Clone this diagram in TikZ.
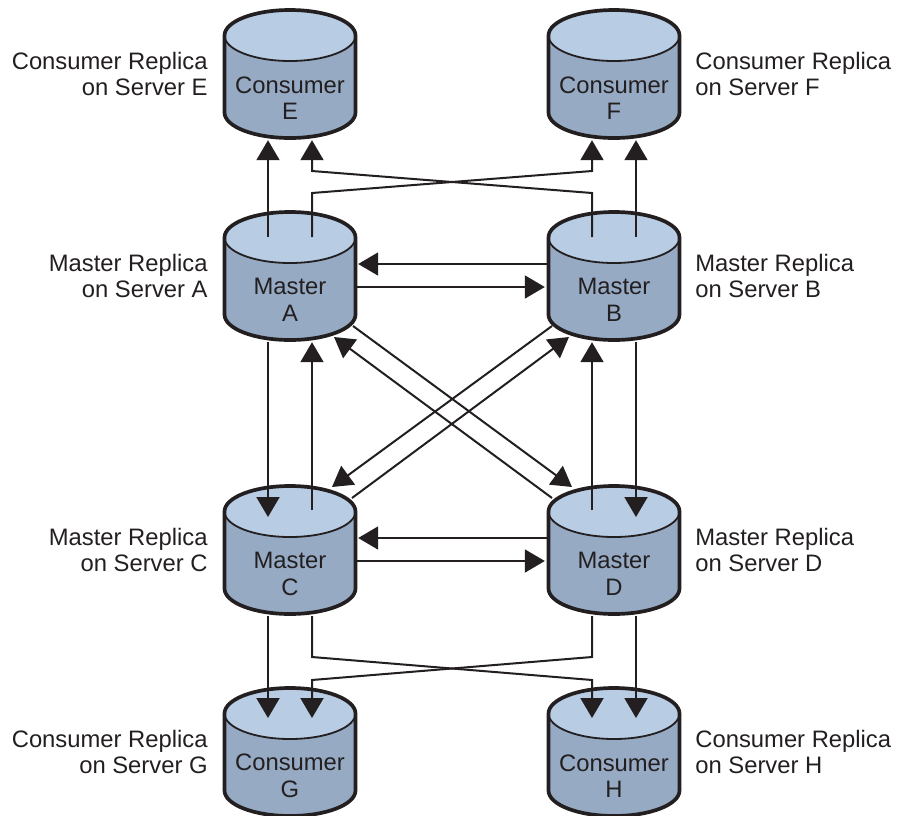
\documentclass[tikz,border=0pt]{standalone}
\usepackage{fontspec}
\setmainfont{Liberation Sans}
\usepackage{tikz}
\usetikzlibrary{positioning, arrows.meta}
\definecolor{dbtop}{RGB}{184,204,228}
\definecolor{dbbody}{RGB}{150,170,195}
\definecolor{ink}{RGB}{35,31,32}
\tikzset{
    dbbox/.style={minimum width=132pt, minimum height=132pt, inner sep=0pt},
    dbtext/.style={align=center, inner sep=0pt, text=ink, font=\fontsize{23.8}{26.6}\selectfont},
    lefttag/.style={align=right, inner sep=0pt, text=ink, font=\fontsize{23.8}{26.6}\selectfont},
    righttag/.style={align=left, inner sep=0pt, text=ink, font=\fontsize{23.8}{26.6}\selectfont},
    flow/.style={draw=ink, line width=2pt, -{Triangle[length=20pt,width=23pt]}}
}
% one cylinder: name, x, y
\newcommand{\dbdrum}[3]{
    \node[dbbox] (#1) at (#2,#3) {};
    \fill[dbbody] (#2-65.5,#3-38.5) -- ++(0,77) arc[start angle=180, end angle=0, x radius=65.5, y radius=25.5] -- ++(0,-77) -- cycle;
    \fill[dbtop] (#2,#3-38.5) ellipse[x radius=65.5, y radius=25.5];
    \draw[ink, line width=1.8pt] (#2-65.5,#3-38.5) arc[start angle=180, end angle=0, x radius=65.5, y radius=25.5];
    \draw[ink, line width=3.7pt] (#2-65.5,#3+38.5) -- ++(0,-77) arc[start angle=180, end angle=360, x radius=65.5, y radius=25.5] -- ++(0,77) arc[start angle=0, end angle=180, x radius=65.5, y radius=25.5] -- cycle;
}
\begin{document}
\begin{tikzpicture}[x=1pt, y=-1pt]
    \useasboundingbox (0,0) rectangle (898,815);

    % Draw the cylinders
    \foreach \nm/\x/\y in {E/290/74, F/614/74, A/290/276, B/614/276, C/290/550, D/614/550, G/290/752, H/614/752}
        \dbdrum{\nm}{\x}{\y};

    % Text inside the cylinders
    \foreach \nm/\txt in {E/Consumer, F/Consumer, A/Master, B/Master, C/Master, D/Master, G/Consumer, H/Consumer}
        \node[dbtext] (\nm text) at ([yshift=-24pt]\nm.center) {\txt\\\nm};

    % Labels beside the cylinders
    \foreach \nm/\txt in {E/Consumer, A/Master, C/Master, G/Consumer}
        \node[lefttag, left=16pt of \nm] (\nm tag) {\txt{} Replica\\on Server \nm};
    \foreach \nm/\txt in {F/Consumer, B/Master, D/Master, H/Consumer}
        \node[righttag, right=15pt of \nm] (\nm tag) {\txt{} Replica\\on Server \nm};

    % Masters up to the top consumers
    \draw[flow] ([shift={(-22pt,39pt)}]A.center) -- ([xshift=-22pt]E.south);
    \draw[flow] ([shift={(22pt,39pt)}]B.center) -- ([xshift=22pt]F.south);
    \draw[flow] ([shift={(22pt,39pt)}]A.center) -- (312,193) -- (592,171) -- ([xshift=-22pt]F.south);
    \draw[flow] ([shift={(-22pt,39pt)}]B.center) -- (592,193) -- (312,171) -- ([xshift=22pt]E.south);

    % Master to master, horizontal
    \draw[flow] ([yshift=12pt]B.west) -- ([shift={(2pt,12pt)}]A.east);
    \draw[flow] ([yshift=-11pt]A.east) -- ([shift={(-3pt,-11pt)}]B.west);
    \draw[flow] ([yshift=12pt]D.west) -- ([shift={(2pt,12pt)}]C.east);
    \draw[flow] ([yshift=-11pt]C.east) -- ([shift={(-3pt,-11pt)}]D.west);

    % Master to master, vertical
    \draw[flow] ([xshift=-22pt]A.south) -- ([shift={(-22pt,33pt)}]C.center);
    \draw[flow] ([shift={(22pt,40pt)}]C.center) -- ([xshift=22pt]A.south);
    \draw[flow] ([xshift=22pt]B.south) -- ([shift={(22pt,33pt)}]D.center);
    \draw[flow] ([shift={(-22pt,40pt)}]D.center) -- ([xshift=-22pt]B.south);

    % Master to master, diagonal
    \draw[flow] ([shift={(63pt,-50pt)}]A.center) -- ([shift={(-42pt,63pt)}]D.center);
    \draw[flow] ([shift={(-62pt,52pt)}]D.center) -- ([shift={(44pt,-61pt)}]A.center);
    \draw[flow] ([shift={(-62pt,-50pt)}]B.center) -- ([shift={(42pt,63pt)}]C.center);
    \draw[flow] ([shift={(62pt,52pt)}]C.center) -- ([shift={(-45pt,-61pt)}]B.center);

    % Masters down to the bottom consumers
    \draw[flow] ([xshift=-22pt]C.south) -- ([shift={(-22pt,34pt)}]G.center);
    \draw[flow] ([xshift=22pt]D.south) -- ([shift={(22pt,34pt)}]H.center);
    \draw[flow] ([xshift=22pt]C.south) -- (312,657) -- (592,680) -- ([shift={(-22pt,34pt)}]H.center);
    \draw[flow] ([xshift=-22pt]D.south) -- (592,657) -- (312,680) -- ([shift={(22pt,34pt)}]G.center);
\end{tikzpicture}
\end{document}
